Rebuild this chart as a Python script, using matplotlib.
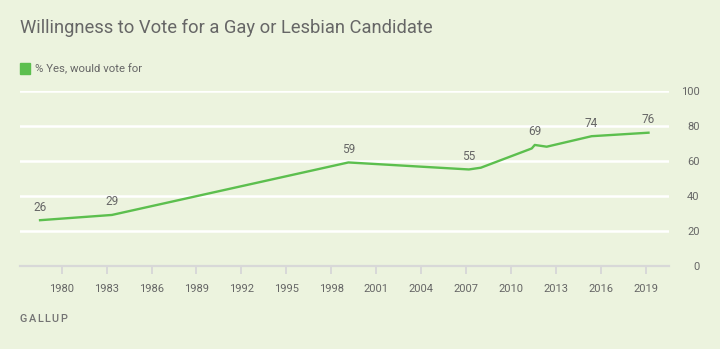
import matplotlib
matplotlib.use("Agg")
import matplotlib.pyplot as plt
from matplotlib.transforms import offset_copy

# Survey waves (fractional year of fieldwork) and % saying yes
years = [1978.55, 1983.35, 1999.15, 2007.2, 2008.0, 2011.4, 2011.6, 2012.4, 2015.4, 2019.2]
values = [26, 29, 59, 55, 56, 67, 69, 68, 74, 76]
labeled = [True, True, True, True, False, False, True, False, True, True]

x_ticks = [1980, 1983, 1986, 1989, 1992, 1995, 1998, 2001, 2004, 2007, 2010, 2013, 2016, 2019]
y_ticks = [0, 20, 40, 60, 80, 100]

title = "Willingness to Vote for a Gay or Lesbian Candidate"
series_name = "% Yes, would vote for"
source = "GALLUP"

BG = "#ECF3DE"
GREEN = "#5CBF4E"
TEXT = "#666666"
AXIS = "#D8D8D8"
FONT = "Roboto"

W, H = 720, 349
fig = plt.figure(figsize=(W / 100, H / 100), dpi=100)
fig.patch.set_facecolor(BG)
renderer = fig.canvas.get_renderer()

def fx(px):
    return px / W

def fy(py):
    return 1 - py / H

def fit_width(t, width_px):
    """Scale a text's font size so its rendered width is width_px."""
    w = t.get_window_extent(renderer).width
    t.set_fontsize(t.get_fontsize() * width_px / w)

ax = fig.add_axes([fx(20), fy(265.7), fx(669) - fx(20), fy(90.7) - fy(265.7)])
ax.set_facecolor(BG)
ax.set_xlim(1977.21, 2020.57)
ax.set_ylim(0, 100)

for s in ["top", "right", "left"]:
    ax.spines[s].set_visible(False)
ax.spines["bottom"].set_color(AXIS)
ax.spines["bottom"].set_linewidth(1.6)
ax.spines["bottom"].set_zorder(3)

# horizontal gridlines
for v in y_ticks[1:]:
    ax.axhline(v, color="white", lw=1.8, zorder=1)

ax.set_xticks(x_ticks)
ax.set_xticklabels([str(t) for t in x_ticks], fontsize=8, color=TEXT, fontfamily=FONT)
ax.tick_params(axis="x", length=6, width=1.4, color=AXIS, pad=7)

ax.yaxis.tick_right()
ax.set_yticks(y_ticks)
ax.set_yticklabels([str(t) for t in y_ticks], fontsize=8, color=TEXT, fontfamily=FONT)
ax.tick_params(axis="y", length=0, pad=22)
for lab in ax.get_yticklabels():
    lab.set_horizontalalignment("right")

ax.plot(years, values, color=GREEN, lw=1.7, zorder=4, solid_joinstyle="round")

for x, v, show in zip(years, values, labeled):
    if show:
        ax.annotate(str(v), (x, v), xytext=(0, 9.5), textcoords="offset points",
                    ha="center", va="center", fontsize=8.5, color=TEXT,
                    fontfamily=FONT, zorder=5)

t_title = fig.text(fx(20), fy(28), title, fontsize=13, color=TEXT, fontfamily=FONT,
                   ha="left", va="center")
fit_width(t_title, 411)

fig.patches.append(plt.Rectangle((fx(20), fy(73.5)), fx(10), 10 / H,
                                 transform=fig.transFigure, color=GREEN))
t_leg = fig.text(fx(35), fy(68.5), series_name, fontsize=8, color=TEXT, fontfamily=FONT,
                 ha="left", va="center")
fit_width(t_leg, 107)

# letter-spaced source line
letters = []
for ch in source:
    letters.append(fig.text(0, fy(319), ch, fontsize=7.8, color="#737373",
                            fontfamily=FONT, fontweight="medium",
                            ha="left", va="center"))
widths = [t.get_window_extent(renderer).width for t in letters]
gap = (47 - sum(widths)) / (len(letters) - 1)
offset_px = 0.0
for t, w in zip(letters, widths):
    t.set_transform(offset_copy(fig.transFigure, fig=fig, x=(20 + offset_px) * 0.72,
                                y=0, units="points"))
    offset_px += w + gap

fig.savefig("out.png", dpi=100, facecolor=BG)
